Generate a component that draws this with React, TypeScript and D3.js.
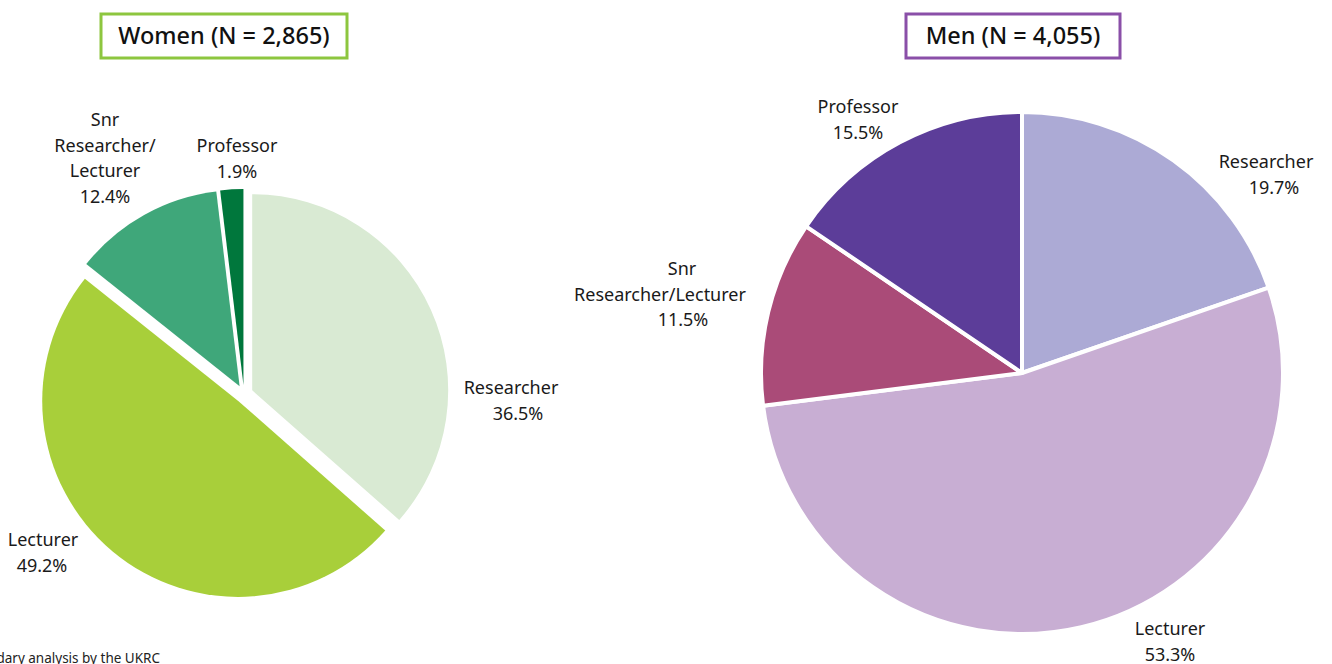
import React from 'react';
import * as d3 from 'd3';

// Women: share of staff by grade (%)
const WOMEN_CATS = ['Researcher', 'Lecturer', 'Snr Researcher/Lecturer', 'Professor'];
const WOMEN_VALUES = [36.5, 49.2, 12.4, 1.9];
const WOMEN_COLORS = ['#d9ead3', '#a8cf3a', '#3fa77a', '#00773c'];

// Men
const MEN_CATS = ['Researcher', 'Lecturer', 'Snr Researcher/Lecturer', 'Professor'];
const MEN_VALUES = [19.7, 53.3, 11.5, 15.5];
const MEN_COLORS = ['#acaad5', '#c8aed3', '#aa4b78', '#5c3d99'];

const WOMEN_TITLE = 'Women (N = 2,865)';
const MEN_TITLE = 'Men (N = 4,055)';

// label lines per slice (same order as categories)
const WOMEN_LABELS = [['Researcher'], ['Lecturer'], ['Snr', 'Researcher/', 'Lecturer'], ['Professor']];
const MEN_LABELS = [['Researcher'], ['Lecturer'], ['Snr', 'Researcher/Lecturer'], ['Professor']];

const FONT = '"Noto Sans", "Open Sans", sans-serif';
const LINE_H = 25.5;

type PieCfg = {
  cx: number;
  cy: number;
  r: number;
  explode: number;
  values: number[];
  colors: string[];
  labels: string[][];
  labelPos: [number, number][]; // top-line centre of each label block
  lineDx: number[][]; // per-line horizontal nudge, Excel centres lines oddly
};

function Pie({ cx, cy, r, explode, values, colors, labels, labelPos, lineDx }: PieCfg) {
  const pie = d3.pie<number>().value(d => d).sort(null);
  const arcs = pie(values);
  const arc = d3.arc<d3.PieArcDatum<number>>().innerRadius(0).outerRadius(r);

  return (
    <g>
      {arcs.map((a, i) => {
        const mid = (a.startAngle + a.endAngle) / 2;
        const dx = Math.sin(mid) * explode;
        const dy = -Math.cos(mid) * explode;
        return (
          <path
            key={i}
            d={arc(a) as string}
            transform={`translate(${cx + dx},${cy + dy})`}
            fill={colors[i]}
            stroke="#ffffff"
            strokeWidth={explode > 0 ? 0 : 4}
            strokeLinejoin="round"
          />
        );
      })}
      {arcs.map((a, i) => {
        const lines = [...labels[i], `${values[i].toFixed(1)}%`];
        const [lx, ly] = labelPos[i];
        return (
          <text
            key={'l' + i}
            x={lx}
            y={ly}
            textAnchor="middle"
            fontFamily={FONT}
            fontSize={18}
            fill="#1a1a1a"
          >
            {lines.map((t, j) => (
              <tspan key={j} x={lx + (lineDx[i][j] || 0)} dy={j === 0 ? 0 : LINE_H}>
                {t}
              </tspan>
            ))}
          </text>
        );
      })}
    </g>
  );
}

function TitleBox({ x, y, w, h, text, color }: { x: number; y: number; w: number; h: number; text: string; color: string }) {
  return (
    <g>
      <rect x={x} y={y} width={w} height={h} fill="#fff" stroke={color} strokeWidth={3} />
      <text
        x={x + w / 2}
        y={y + h / 2 + 8}
        textAnchor="middle"
        fontFamily={FONT}
        fontSize={23.5}
        fontWeight={500}
        fill="#111"
      >
        {text}
      </text>
    </g>
  );
}

export default function App() {
  return (
    <svg
      width={1332}
      height={664}
      style={{ position: 'absolute', left: 0, top: 0, background: '#fff' }}
    >
      <TitleBox x={101} y={14} w={246} h={44} text={WOMEN_TITLE} color="#8dc63f" />
      <TitleBox x={906} y={14} w={214} h={44} text={MEN_TITLE} color="#8a4fa8" />

      <Pie
        cx={244}
        cy={394}
        r={196}
        explode={9}
        values={WOMEN_VALUES}
        colors={WOMEN_COLORS}
        labels={WOMEN_LABELS}
        labelPos={[[511, 394], [43, 546], [105, 126], [237, 152]]}
        lineDx={[[0, 7], [0, -1], [0, 0, 0, 0], [0, 0]]}
      />
      <Pie
        cx={1022}
        cy={373}
        r={261}
        explode={0}
        values={MEN_VALUES}
        colors={MEN_COLORS}
        labels={MEN_LABELS}
        labelPos={[[1266, 168], [1170, 635], [682, 275], [858, 113]]}
        lineDx={[[0, 8], [0, 0], [0, -22, 1], [0, 0]]}
      />

      <text x={160} y={663} textAnchor="end" fontFamily={FONT} fontSize={13.5} fill="#222">
        secondary analysis by the UKRC
      </text>
      {/* keep categories referenced */}
      <desc>{[...WOMEN_CATS, ...MEN_CATS].join(', ')}</desc>
    </svg>
  );
}
